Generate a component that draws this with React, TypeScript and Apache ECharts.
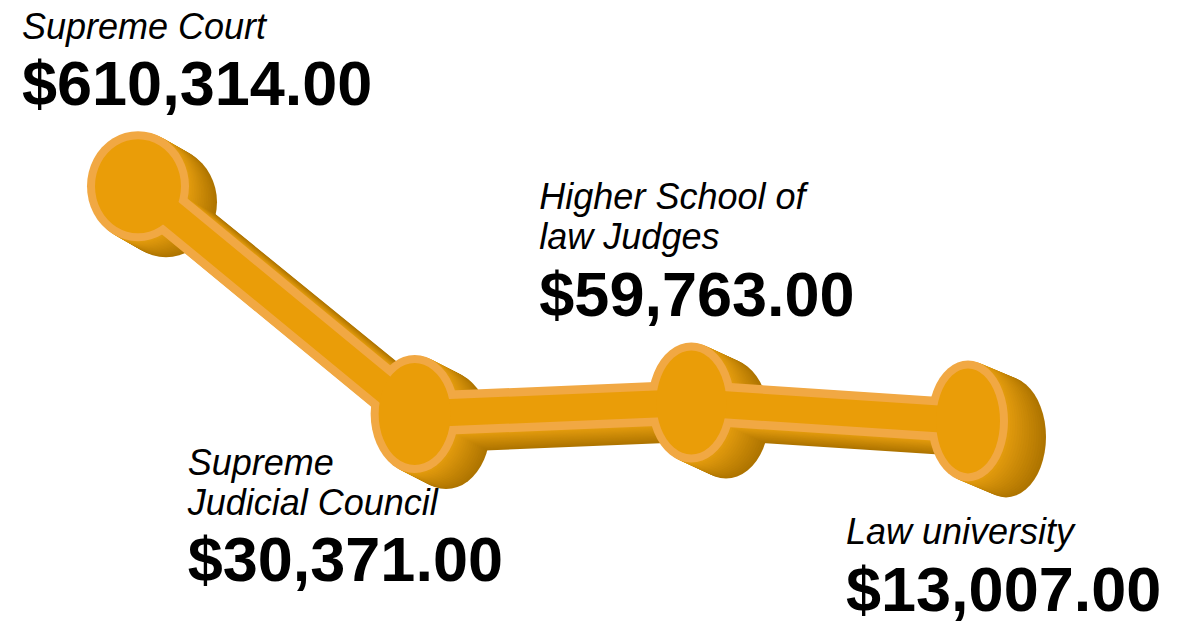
import React, { useEffect, useRef } from "react";
import * as echarts from "echarts";

const categories = ["Supreme Court", "Supreme Judicial Council", "Higher School of law Judges", "Law university"];
const labelNames = ["Supreme Court", "Supreme\nJudicial Council", "Higher School of\nlaw Judges", "Law university"];
const values = [610314, 30371, 59763, 13007];

// styling (not data)
const diskOuter = [[102, 110], [88, 118], [86, 120], [80, 121]];
const RIM = 16;
const labelOffsets = [[-116, -180], [-227, 28], [-152, -226], [-122, 91]];
const FONT = '"Liberation Sans", Arial, Helvetica, sans-serif';

const W = 1195;
const H = 625;
const G = { left: 138, rightX: 968, top: 151, bottom: 199 };
const DEPTH_STEPS = 16;

function mix(a: number[], b: number[], t: number) {
  const c = a.map((v, i) => Math.round(v + (b[i] - v) * t));
  return `rgb(${c[0]},${c[1]},${c[2]})`;
}

export default function App() {
  const ref = useRef<HTMLDivElement>(null);
  useEffect(() => {
    if (!ref.current) return;
    const chart = echarts.init(ref.current, null, { renderer: "svg" });
    const grids: any[] = [];
    const xAxes: any[] = [];
    const yAxes: any[] = [];
    const series: any[] = [];

    const addGrid = (dxL: number, dxR: number, dy: number) => {
      grids.push({
        left: G.left + dxL,
        right: W - (G.rightX + dxR),
        top: G.top + dy,
        bottom: G.bottom - dy,
        containLabel: false,
      });
      const idx = grids.length - 1;
      xAxes.push({ type: "category", data: categories, boundaryGap: false, show: false, gridIndex: idx });
      yAxes.push({ type: "value", min: 0, max: 700000, show: false, gridIndex: idx });
      return idx;
    };

    const front = addGrid(0, 0, 0);
    for (let k = DEPTH_STEPS; k >= 1; k--) {
      const t = k / DEPTH_STEPS;
      const gi = addGrid(28 * t, 38 * t, 16 * t);
      const col = mix([228, 156, 14], [174, 116, 0], t);
      series.push({
        type: "line",
        xAxisIndex: gi,
        yAxisIndex: gi,
        data: values,
        symbol: "circle",
        symbolSize: (_v: any, p: any) => diskOuter[p.dataIndex],
        showAllSymbol: true,
        lineStyle: { width: 44, color: col, cap: "round" },
        itemStyle: { color: col },
        z: 1 + DEPTH_STEPS - k,
        silent: true,
        emphasis: { disabled: true },
        label: { show: false },
      });
    }

    series.push({
      type: "line",
      xAxisIndex: front,
      yAxisIndex: front,
      data: values,
      symbol: "circle",
      symbolSize: (_v: any, p: any) => diskOuter[p.dataIndex],
      showAllSymbol: true,
      lineStyle: { width: 44, color: "#F1A843" },
      itemStyle: { color: "#F1A843" },
      z: 40,
      silent: true,
      emphasis: { disabled: true },
      label: { show: false },
    });

    series.push({
      type: "line",
      xAxisIndex: front,
      yAxisIndex: front,
      data: values,
      symbol: "circle",
      symbolSize: (_v: any, p: any) => [diskOuter[p.dataIndex][0] - RIM, diskOuter[p.dataIndex][1] - RIM],
      showAllSymbol: true,
      lineStyle: { width: 27, color: "#EA9D08" },
      itemStyle: { color: "#EA9D08" },
      z: 41,
      silent: true,
      emphasis: { disabled: true },
      label: {
        show: true,
        position: "inside",
        align: "left",
        verticalAlign: "top",
        formatter: (p: any) => {
          const name = labelNames[p.dataIndex]
            .split("\n")
            .map((s) => `{name|${s}}`)
            .join("\n");
          const val = "$" + Number(values[p.dataIndex]).toLocaleString("en-US", { minimumFractionDigits: 2, maximumFractionDigits: 2 });
          return `${name}\n{val|${val}}`;
        },
        rich: {
          name: { fontFamily: FONT, fontStyle: "italic", fontSize: 36, lineHeight: 40, color: "#000" },
          val: { fontFamily: FONT, fontWeight: "bold", fontSize: 63, lineHeight: 74, color: "#000" },
        },
      },
      labelLayout: (params: any) => {
        const r = params.rect;
        const cx = r.x + r.width / 2;
        const cy = r.y + r.height / 2;
        const o = labelOffsets[params.dataIndex];
        return { x: cx + o[0], y: cy + o[1], align: "left", verticalAlign: "top", hideOverlap: false };
      },
    });

    chart.setOption({
      animation: false,
      backgroundColor: "#ffffff",
      grid: grids,
      xAxis: xAxes,
      yAxis: yAxes,
      tooltip: { show: false },
      series,
    });
    return () => chart.dispose();
  }, []);
  return <div ref={ref} style={{ position: "absolute", left: 0, top: 0, width: W, height: H }} />;
}
